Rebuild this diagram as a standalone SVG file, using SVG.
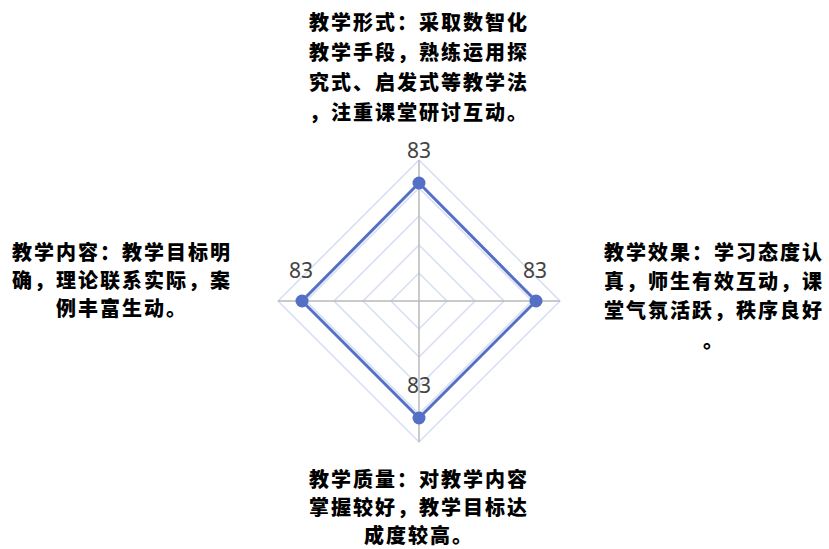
<svg xmlns="http://www.w3.org/2000/svg" width="829" height="549" viewBox="0 0 829 549">
<style>
.ring{fill:none;stroke:#d6def1;stroke-width:1.5}
.axis{stroke:#b8b8b8;stroke-width:1.5}
.data{fill:none;stroke:#5470c6;stroke-width:3;stroke-linejoin:round}
.dot{fill:#5470c6}
.val{font-family:"Noto Sans","Liberation Sans",sans-serif;font-size:21px;fill:#444;text-anchor:middle}
.lbl{font-family:"Noto Sans CJK SC","Noto Sans CJK JP",sans-serif;font-size:20px;font-weight:900;letter-spacing:2px;fill:#000;text-anchor:middle}
</style>
<rect width="829" height="549" fill="#fff"/>
<g id="grid">
<polygon class="ring" points="419,273 447,301 419,329 391,301"/>
<polygon class="ring" points="419,245 475,301 419,357 363,301"/>
<polygon class="ring" points="419,216 504,301 419,386 334,301"/>
<polygon class="ring" points="419,188 532,301 419,414 306,301"/>
<polygon class="ring" points="419,160 560,301 419,442 278,301"/>
</g>
<g id="connectors">
<line class="axis" x1="419" y1="160" x2="419" y2="442"/>
<line class="axis" x1="278" y1="301" x2="560" y2="301"/>
</g>
<g id="series">
<polygon class="data" points="419,183 536,301 419,418 302,301"/>
<circle class="dot" cx="419" cy="183" r="6.5"/>
<circle class="dot" cx="536" cy="301" r="6.5"/>
<circle class="dot" cx="419" cy="418" r="6.5"/>
<circle class="dot" cx="302" cy="301" r="6.5"/>
<text class="val" x="419" y="158">83</text>
<text class="val" x="535" y="278">83</text>
<text class="val" x="419" y="393">83</text>
<text class="val" x="301" y="278">83</text>
</g>
<g id="node-top">
<text class="lbl" x="419" y="30">教学形式：采取数智化</text>
<text class="lbl" x="419" y="60">教学手段，熟练运用探</text>
<text class="lbl" x="419" y="90">究式、启发式等教学法</text>
<text class="lbl" x="419" y="120">，注重课堂研讨互动。</text>
</g>
<g id="node-right">
<text class="lbl" x="714" y="260">教学效果：学习态度认</text>
<text class="lbl" x="714" y="289">真，师生有效互动，课</text>
<text class="lbl" x="714" y="318">堂气氛活跃，秩序良好</text>
<text class="lbl" x="714" y="348">。</text>
</g>
<g id="node-bottom">
<text class="lbl" x="419" y="487">教学质量：对教学内容</text>
<text class="lbl" x="419" y="515">掌握较好，教学目标达</text>
<text class="lbl" x="419" y="543">成度较高。</text>
</g>
<g id="node-left">
<text class="lbl" x="122" y="260">教学内容：教学目标明</text>
<text class="lbl" x="122" y="288">确，理论联系实际，案</text>
<text class="lbl" x="122" y="316">例丰富生动。</text>
</g>
</svg>
